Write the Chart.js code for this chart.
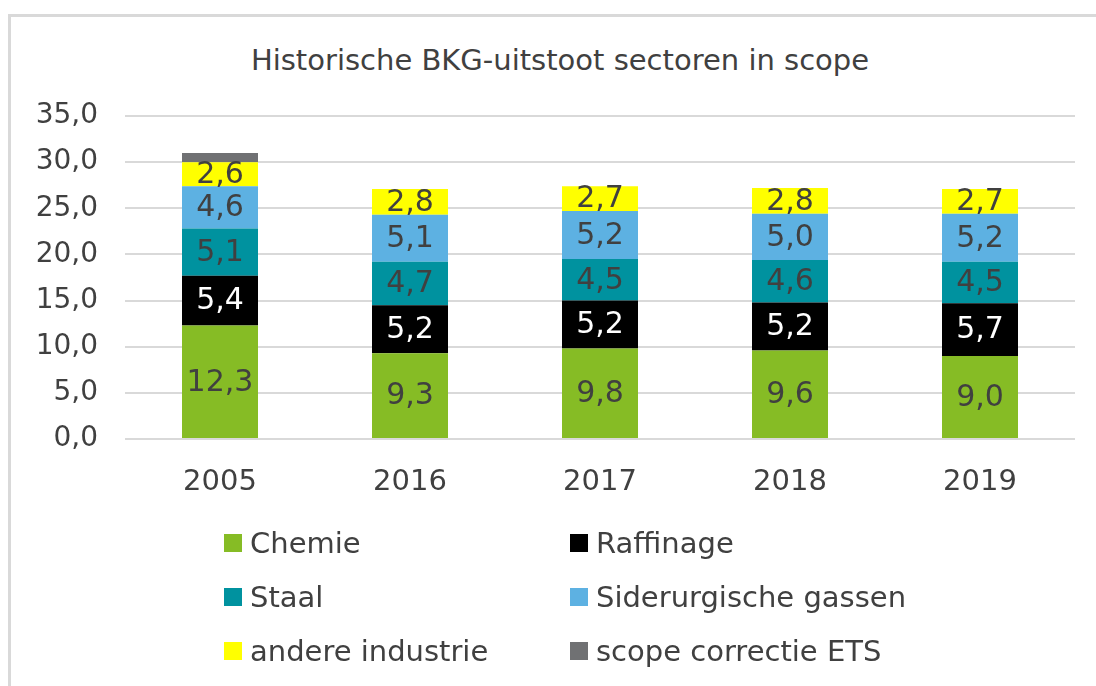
<!DOCTYPE html>
<html>
<head>
<meta charset="utf-8">
<script src="https://cdn.jsdelivr.net/npm/chart.js@4/dist/chart.umd.min.js"></script>
<style>
  html, body { margin: 0; padding: 0; background: #fff; width: 1096px; height: 686px; overflow: hidden; }
  #frame { position: absolute; left: 8px; top: 14px; width: 1200px; height: 800px; border: 3px solid #d9d9d9; box-sizing: border-box; }
  #title { position: absolute; left: 60px; width: 1000px; top: 40px; height: 40px; line-height: 40px; text-align: center;
           font-family: "DejaVu Sans", sans-serif; font-size: 29px; color: #404040; }
  #wrap { position: absolute; left: 0; top: 0; width: 1096px; height: 686px; }
  #legend { position: absolute; left: 0; top: 0; width: 1096px; height: 686px; pointer-events: none;
            font-family: "DejaVu Sans", sans-serif; font-size: 29px; color: #404040; }
  .item { position: absolute; height: 36px; line-height: 36px; white-space: nowrap; }
  .sw { display: inline-block; width: 18px; height: 18px; vertical-align: middle; margin-right: 8px; position: relative; top: -2px; }
</style>
</head>
<body>
<div id="frame"></div>
<div id="title">Historische BKG-uitstoot sectoren in scope</div>
<div id="wrap"><canvas id="c" width="1096" height="686"></canvas></div>
<div id="legend"></div>
<script>
const categories = ['2005', '2016', '2017', '2018', '2019'];
const chemie     = [12.3, 9.3, 9.8, 9.6, 9.0];
const raffinage  = [5.4, 5.2, 5.2, 5.2, 5.7];
const staal      = [5.1, 4.7, 4.5, 4.6, 4.5];
const siderurg   = [4.6, 5.1, 5.2, 5.0, 5.2];
const andere     = [2.6, 2.8, 2.7, 2.8, 2.7];
const scopeCorr  = [1.0, 0, 0, 0, 0];
const seriesNames = ['Chemie', 'Raffinage', 'Staal', 'Siderurgische gassen', 'andere industrie', 'scope correctie ETS'];
const seriesColors = ['#86bc25', '#000000', '#00929f', '#5db1e2', '#ffff00', '#707173'];
const labelColors = ['#404040', '#ffffff', '#404040', '#404040', '#404040', null];
const yTicks = [0, 5, 10, 15, 20, 25, 30, 35];

const seriesData = [chemie, raffinage, staal, siderurg, andere, scopeCorr];
const fmt = v => v.toFixed(1).replace('.', ',');
const FONT = '"DejaVu Sans", sans-serif';

const datasets = seriesData.map((d, i) => ({
  label: seriesNames[i],
  data: d,
  backgroundColor: seriesColors[i],
  borderWidth: 0,
  categoryPercentage: 1.0,
  barPercentage: 0.4,
  labelColor: labelColors[i]
}));

const valueLabels = {
  id: 'valueLabels',
  afterDatasetsDraw(chart) {
    const ctx = chart.ctx;
    ctx.save();
    ctx.font = '30px ' + FONT;
    ctx.textAlign = 'center';
    ctx.textBaseline = 'middle';
    chart.data.datasets.forEach((ds, i) => {
      if (!ds.labelColor) return;
      const meta = chart.getDatasetMeta(i);
      meta.data.forEach((el, j) => {
        const v = ds.data[j];
        if (!v) return;
        ctx.fillStyle = ds.labelColor;
        ctx.fillText(fmt(v), el.x, (el.y + el.base) / 2 + 1);
      });
    });
    ctx.restore();
  }
};

new Chart(document.getElementById('c'), {
  type: 'bar',
  data: { labels: categories, datasets },
  options: {
    responsive: false,
    animation: false,
    events: [],
    layout: { padding: { top: 116, right: 21, bottom: 0, left: 0 } },
    plugins: { legend: { display: false }, tooltip: { enabled: false }, title: { display: false } },
    scales: {
      x: {
        stacked: true,
        grid: { display: false },
        border: { display: false },
        ticks: { font: { family: FONT, size: 29 }, color: '#404040', padding: 18 },
        afterFit(scale) { scale.height = 247; }
      },
      y: {
        stacked: true,
        min: 0, max: 35,
        afterBuildTicks(scale) { scale.ticks = yTicks.map(v => ({ value: v })); },
        grid: { color: '#d9d9d9', lineWidth: 2, drawTicks: false },
        border: { display: false },
        ticks: { font: { family: FONT, size: 28 }, color: '#404040', padding: 27, callback: v => fmt(v) },
        afterFit(scale) { scale.width = 125; }
      }
    }
  },
  plugins: [valueLabels]
});

// legend (2 columns x 3 rows)
const legend = document.getElementById('legend');
const colX = [224, 570];
const rowY = [543, 597, 651];
seriesNames.forEach((name, i) => {
  const it = document.createElement('div');
  it.className = 'item';
  it.style.left = colX[i % 2] + 'px';
  it.style.top = (rowY[Math.floor(i / 2)] - 18) + 'px';
  const sw = document.createElement('span');
  sw.className = 'sw';
  sw.style.background = seriesColors[i];
  it.appendChild(sw);
  it.appendChild(document.createTextNode(name));
  legend.appendChild(it);
});
</script>
</body>
</html>
